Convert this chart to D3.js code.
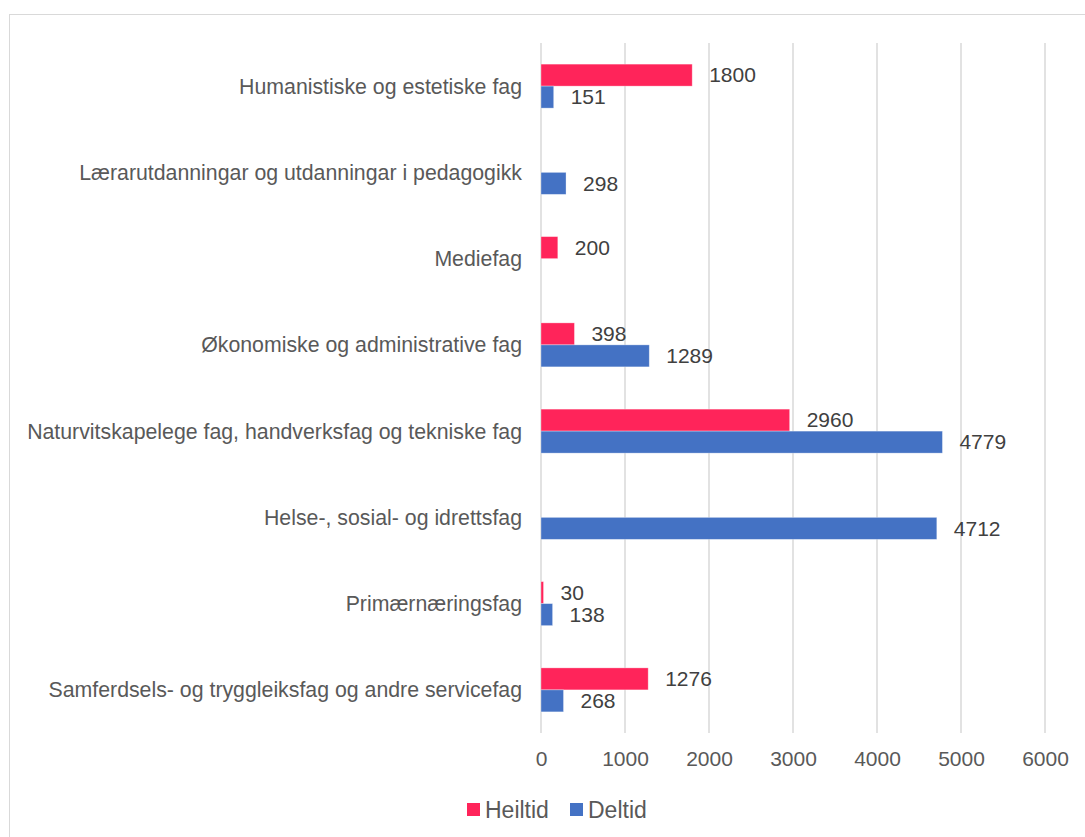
<!DOCTYPE html>
<html>
<head>
<meta charset="utf-8">
<script src="https://cdn.jsdelivr.net/npm/d3@7"></script>
<style>
  body { margin: 0; background: #fff; }
  text { font-family: "Liberation Sans", Arial, sans-serif; }
</style>
</head>
<body>
<div id="chart"></div>
<script>
var categories = [
  "Humanistiske og estetiske fag",
  "Lærarutdanningar og utdanningar i pedagogikk",
  "Mediefag",
  "Økonomiske og administrative fag",
  "Naturvitskapelege fag, handverksfag og tekniske fag",
  "Helse-, sosial- og idrettsfag",
  "Primærnæringsfag",
  "Samferdsels- og tryggleiksfag og andre servicefag"
];
var heiltid = [1800, null, 200, 398, 2960, null, 30, 1276];
var deltid = [151, 298, null, 1289, 4779, 4712, 138, 268];
var seriesNames = ["Heiltid", "Deltid"];
var tickValues = [0, 1000, 2000, 3000, 4000, 5000, 6000];

var W = 1085, H = 837;
var margin = {top: 43, right: 40, bottom: 104, left: 541};
var width = W - margin.left - margin.right,
    height = H - margin.top - margin.bottom;

var svg = d3.select("#chart").append("svg")
    .attr("width", W)
    .attr("height", H);

// outer chart border
svg.append("rect")
    .attr("x", 9.5).attr("y", 14.5)
    .attr("width", W).attr("height", H)
    .attr("fill", "none")
    .attr("stroke", "#d9d9d9");

var g = svg.append("g")
    .attr("transform", "translate(" + margin.left + "," + margin.top + ")");

var x = d3.scaleLinear().domain([0, 6000]).range([0, 504]);
var y0 = d3.scaleBand().domain(categories).range([0, height])
    .paddingInner(0.49).paddingOuter(0.245);
var y1 = d3.scaleBand().domain(seriesNames).range([0, y0.bandwidth()]);
var z = d3.scaleOrdinal(seriesNames, ["#ff245a", "#4472c4"]);

// gridlines
g.append("g")
    .selectAll("line")
    .data(tickValues)
    .enter().append("line")
      .attr("x1", function(d) { return x(d); })
      .attr("x2", function(d) { return x(d); })
      .attr("y1", 0)
      .attr("y2", height)
      .attr("stroke", "#d9d9d9")
      .attr("stroke-width", 1.5);

var rows = categories.map(function(c, i) {
  return {cat: c, values: [
    {key: "Heiltid", value: heiltid[i]},
    {key: "Deltid", value: deltid[i]}
  ]};
});

var group = g.selectAll(".grp")
  .data(rows)
  .enter().append("g")
    .attr("class", "grp")
    .attr("transform", function(d) { return "translate(0," + y0(d.cat) + ")"; });

var item = group.selectAll(".item")
  .data(function(d) { return d.values.filter(function(v) { return v.value != null; }); })
  .enter().append("g")
    .attr("class", "item");

item.append("rect")
    .attr("x", x(0))
    .attr("y", function(d) { return y1(d.key); })
    .attr("width", function(d) { return x(d.value) - x(0); })
    .attr("height", y1.bandwidth())
    .attr("fill", function(d) { return z(d.key); })
    .attr("stroke", "#fff")
    .attr("stroke-opacity", 0.4)
    .attr("stroke-width", 0.8);

item.append("text")
    .attr("x", function(d) { return x(d.value) + 17; })
    .attr("y", function(d) { return y1(d.key) + y1.bandwidth() / 2; })
    .attr("dy", "0.35em")
    .attr("fill", "#404040")
    .style("font-size", "21px")
    .text(function(d) { return d.value; });

// category labels
g.append("g")
    .selectAll("text")
    .data(categories)
    .enter().append("text")
      .attr("x", -19)
      .attr("y", function(d) { return y0(d) + y0.bandwidth() / 2; })
      .attr("dy", "0.35em")
      .attr("text-anchor", "end")
      .attr("fill", "#595959")
      .style("font-size", "21.3px")
      .text(function(d) { return d; });

// x axis
var xAxis = g.append("g")
    .attr("transform", "translate(0," + height + ")")
    .call(d3.axisBottom(x).tickValues(tickValues).tickFormat(d3.format("d"))
      .tickSize(0).tickPadding(18));
xAxis.select(".domain").remove();
xAxis.selectAll("text")
    .attr("fill", "#595959")
    .style("font-size", "21px")
    .style("font-family", "'Liberation Sans', Arial, sans-serif");

// legend
var legend = svg.append("g")
    .attr("transform", "translate(467,809.5)");
var li = legend.selectAll(".legend")
  .data(seriesNames)
  .enter().append("g")
    .attr("transform", function(d, i) { return "translate(" + (i * 103) + ",0)"; });
li.append("rect")
    .attr("x", 0).attr("y", -6.5)
    .attr("width", 13).attr("height", 13)
    .attr("fill", z);
li.append("text")
    .attr("x", 18)
    .attr("dy", "0.35em")
    .attr("fill", "#595959")
    .style("font-size", "23px")
    .text(function(d) { return d; });
</script>
</body>
</html>
